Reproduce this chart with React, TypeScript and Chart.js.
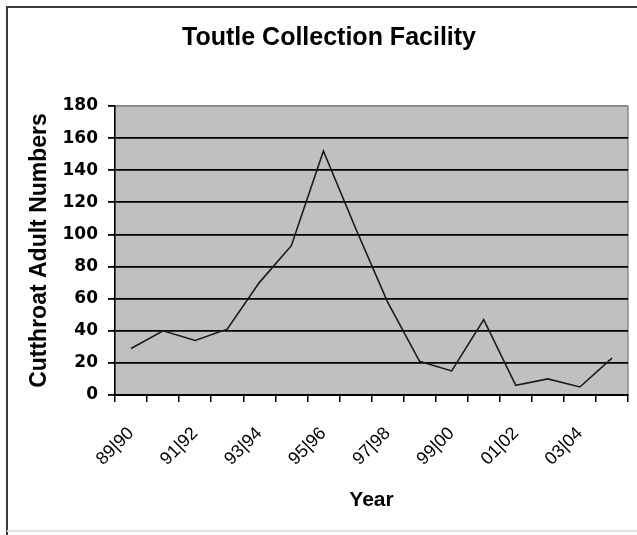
import React, { useEffect, useRef } from "react";
import { Chart, registerables } from "chart.js";

Chart.register(...registerables);

const categories: string[] = [
  "89|90", "90|91", "91|92", "92|93", "93|94", "94|95", "95|96", "96|97",
  "97|98", "98|99", "99|00", "00|01", "01|02", "02|03", "03|04", "04|05",
];
const cutthroatAdults: number[] = [29, 40, 34, 41, 70, 93, 152, 104, 58, 21, 15, 47, 6, 10, 5, 23];
const yTicks: number[] = [0, 20, 40, 60, 80, 100, 120, 140, 160, 180];
const titleText = "Toutle Collection Facility";
const yTitle = "Cutthroat Adult Numbers";
const xTitle = "Year";

const bgPlugin = {
  id: "bgPlugin",
  beforeDraw(chart: any) {
    const { ctx, chartArea: a } = chart;
    ctx.save();
    ctx.fillStyle = "#ffffff";
    ctx.fillRect(0, 0, chart.width, chart.height);
    ctx.fillStyle = "#c0c0c0";
    ctx.fillRect(a.left, a.top, a.right - a.left, a.bottom - a.top);
    ctx.strokeStyle = "#8a8a8a";
    ctx.lineWidth = 1.5;
    ctx.strokeRect(a.left, a.top, a.right - a.left, a.bottom - a.top);
    // outer chart frame
    ctx.strokeStyle = "#3a3a3a";
    ctx.lineWidth = 2;
    ctx.beginPath();
    ctx.moveTo(7, 535);
    ctx.lineTo(7, 7);
    ctx.lineTo(637, 7);
    ctx.stroke();
    ctx.strokeStyle = "#e2e2e2";
    ctx.beginPath();
    ctx.moveTo(7, 531);
    ctx.lineTo(637, 531);
    ctx.stroke();
    ctx.restore();
  },
};

export default function App() {
  const ref = useRef<HTMLCanvasElement | null>(null);

  useEffect(() => {
    if (!ref.current) return;
    const chart = new Chart(ref.current, {
      type: "line",
      data: {
        labels: categories,
        datasets: [
          {
            data: cutthroatAdults,
            borderColor: "#1a1a1a",
            borderWidth: 1.6,
            pointRadius: 0,
            tension: 0,
            fill: false,
          },
        ],
      },
      plugins: [bgPlugin],
      options: {
        responsive: false,
        animation: false,
        layout: { padding: { left: 30, right: 9, top: 0, bottom: 0 } },
        plugins: {
          legend: { display: false },
          tooltip: { enabled: false },
          title: {
            display: true,
            text: titleText,
            color: "#000",
            font: { family: "'Liberation Sans', Arial, sans-serif", size: 25, weight: "bold" },
            padding: { top: 23, bottom: 53 },
          },
        },
        scales: {
          x: {
            type: "category",
            offset: true,
            grid: {
              offset: true,
              drawOnChartArea: false,
              drawTicks: true,
              tickLength: 7,
              color: "#000",
              lineWidth: 1.5,
            },
            border: { display: true, color: "#000", width: 2 },
            ticks: {
              autoSkip: false,
              minRotation: 45,
              maxRotation: 45,
              padding: 21,
              color: "#000",
              font: { family: "'Liberation Sans', Arial, sans-serif", size: 18 },
              callback: (_v: any, i: number) => (i % 2 === 0 ? categories[i] : ""),
            },
            title: {
              display: true,
              text: xTitle,
              color: "#000",
              font: { family: "'Liberation Sans', Arial, sans-serif", size: 21, weight: "bold" },
              padding: { top: 0, bottom: 22 },
            },
            afterFit: (s: any) => {
              s.height = 140;
              s.paddingRight = 0;
              s.paddingLeft = 0;
            },
          },
          y: {
            min: 0,
            max: 180,
            afterBuildTicks: (s: any) => {
              s.ticks = yTicks.map((v) => ({ value: v }));
            },
            grid: {
              color: (c: any) => (c.tick && c.tick.value === 180 ? "#8a8a8a" : "#000"),
              tickColor: "#000",
              lineWidth: 1.8,
              drawTicks: true,
              tickLength: 7,
            },
            border: { display: true, color: "#000", width: 1.5 },
            ticks: {
              padding: 10,
              color: "#000",
              font: { family: "'DejaVu Sans', sans-serif", size: 17, weight: "bold" },
            },
            title: {
              display: true,
              text: yTitle,
              color: "#000",
              font: { family: "'Liberation Sans', Arial, sans-serif", size: 23, weight: "bold" },
              padding: { top: -4, bottom: 0 },
            },
            afterFit: (s: any) => {
              s.width = 85;
            },
          },
        },
      },
    });
    return () => chart.destroy();
  }, []);

  return (
    <div style={{ position: "absolute", left: 0, top: 0, width: 637, height: 535 }}>
      <canvas ref={ref} width={637} height={535} style={{ display: "block" }} />
    </div>
  );
}
